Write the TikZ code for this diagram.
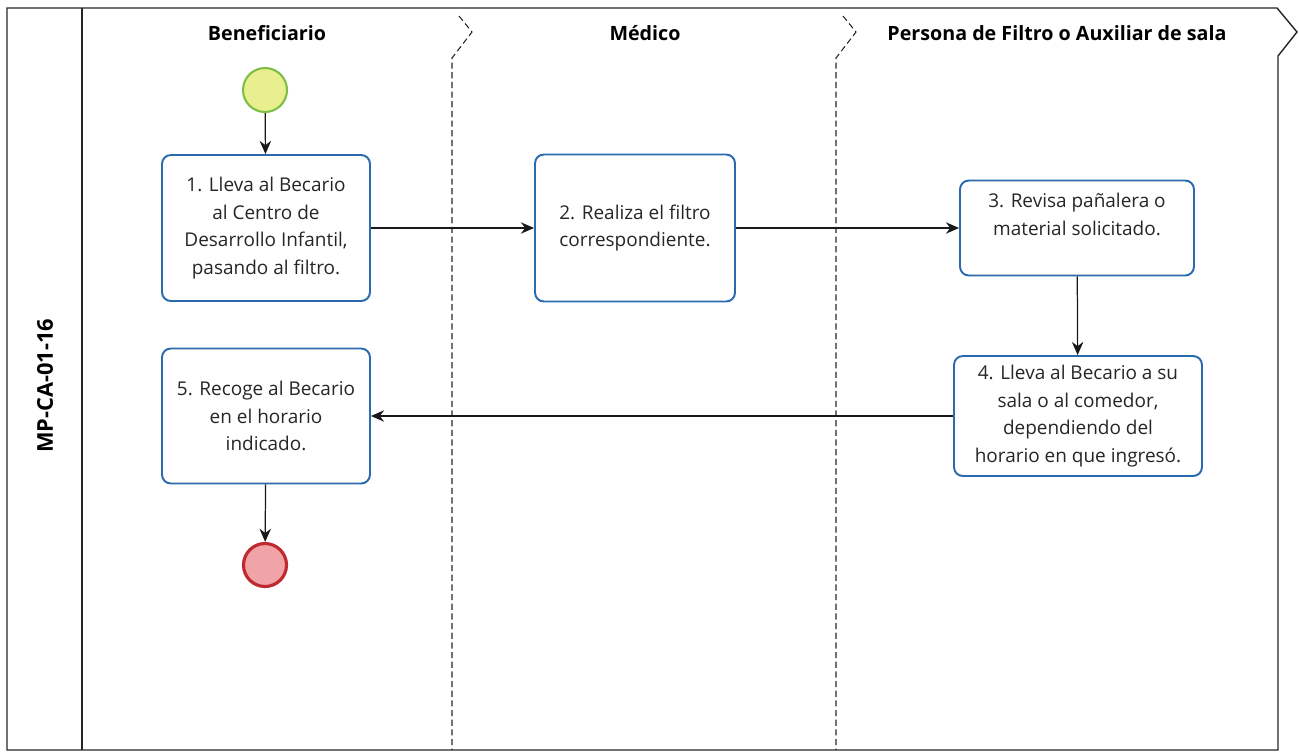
\documentclass[tikz,border=0pt]{standalone}
\usepackage{fontspec}
\setmainfont{Open Sans}
\usetikzlibrary{arrows.meta}
\definecolor{taskblue}{HTML}{2A6AAE}
\definecolor{startfill}{HTML}{E9EE8E}
\definecolor{startline}{HTML}{7DBE45}
\definecolor{endfill}{HTML}{F0A4A7}
\definecolor{endline}{HTML}{BE2A30}

\begin{document}
\begin{tikzpicture}[x=0.02cm, y=-0.02cm,
    task/.style={draw=taskblue, line width=1.1pt, rounded corners=5pt, fill=white,
      align=center, inner sep=0pt, text=black!85, font=\fontsize{10.8}{15.6}\selectfont},
    lanehead/.style={font=\bfseries\fontsize{11.2}{13}\selectfont},
    frame/.style={line width=0.8pt, color=black!85},
    lane/.style={line width=0.6pt, color=black!85, dash pattern=on 3.5pt off 2pt},
    flow/.style={line width=0.7pt, color=black!90, -{Stealth[length=7.5pt, width=6.5pt]}}]
    %%%%% START %%%%%
    \useasboundingbox (0,0) rectangle (1299,755);

    % pool
    \draw[frame] (7,8) -- (1277,8) -- (1297,32) -- (1278,56) -- (1278,750) -- (7,750) -- cycle;
    \draw[frame] (82,8) -- (82,750);
    \node[rotate=90, font=\bfseries\fontsize{12.4}{14}\selectfont] (pool) at (45,386) {MP-CA-01-16};

    % lanes
    \draw[lane] (459,16) -- (472,32) -- (452,58) -- (452,750);
    \draw[lane] (843,16) -- (856,32) -- (836,58) -- (836,750);
    \node[lanehead] (benef) at (267,33) {Beneficiario};
    \node[lanehead] (medico) at (645,33) {Médico};
    \node[lanehead] (filtro) at (1057,33) {Persona de Filtro o Auxiliar de sala};

    % events
    \node[circle, draw=startline, fill=startfill, line width=1.2pt, minimum size=0.88cm] (inicio) at (265,90) {};
    \node[circle, draw=endline, fill=endfill, line width=1.8pt, minimum size=0.86cm] (fin) at (265,565) {};

    % tasks
    \node[task, minimum width=4.16cm, minimum height=2.92cm] (lleva) at (266,228)
      {1. Lleva al Becario\\al Centro de\\Desarrollo Infantil,\\pasando al filtro.};
    \node[task, minimum width=4.0cm, minimum height=2.94cm] (realiza) at (635,228)
      {2. Realiza el filtro\\correspondiente.};
    \node[task, minimum width=4.68cm, minimum height=1.9cm] (revisa) at (1077,228)
      {3. Revisa pañalera o\\material solicitado.\\\mbox{}};
    \node[task, minimum width=4.96cm, minimum height=2.4cm] (sala) at (1078,416)
      {4. Lleva al Becario a su\\sala o al comedor,\\dependiendo del\\horario en que ingresó.};
    \node[task, minimum width=4.16cm, minimum height=2.7cm] (recoge) at (266,416)
      {5. Recoge al Becario\\en el horario\\indicado.};

    % flows
    \draw[flow] (inicio) -- (lleva);
    \draw[flow] (lleva) -- (realiza);
    \draw[flow] (realiza) -- (revisa);
    \draw[flow] (revisa) -- (sala);
    \draw[flow] (sala) -- (recoge);
    \draw[flow] (recoge) -- (fin);
    %%%%% END %%%%%
\end{tikzpicture}
\end{document}
